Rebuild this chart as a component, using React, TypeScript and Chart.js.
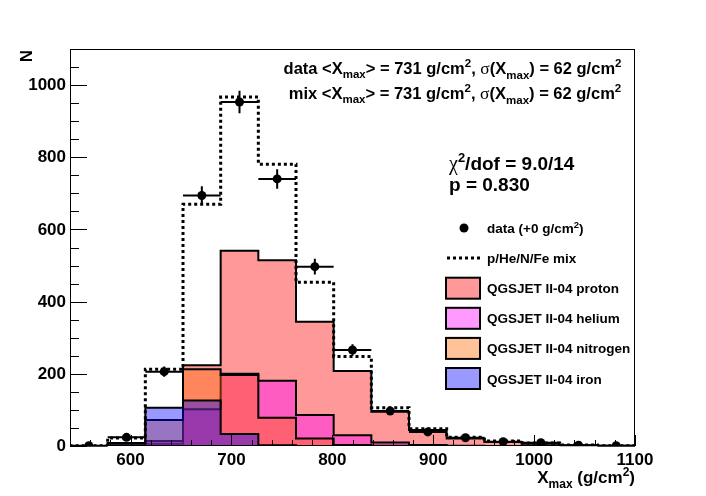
import React, { useEffect, useRef } from "react";
import { Chart, registerables } from "chart.js";

Chart.register(...registerables);

// ---------- data ----------
const BIN_EDGES = [540, 577.33, 614.67, 652, 689.33, 726.67, 764, 801.33, 838.67, 876, 913.33, 950.67, 988, 1025.33, 1062.67, 1100];
const DATA_COUNTS = [1, 24, 206, 694, 953, 740, 497, 266, 97, 39, 23, 12, 9, 2, 1];
const DATA_ERRORS = [1, 5, 14, 26, 31, 27, 22, 16, 10, 6, 5, 3, 3, 1, 1];
const MIX = [1, 22, 213, 670, 967, 781, 454, 248, 106, 48, 24, 14, 8, 3, 1];
const PROTON = [0, 1, 6, 224, 541, 515, 344, 208, 95, 44, 21, 11, 6, 2, 1];
const HELIUM = [0, 2, 14, 102, 200, 181, 86, 30, 10, 3, 1, 0, 0, 0, 0];
const NITROGEN = [0, 8, 72, 213, 197, 78, 21, 3, 1, 0, 0, 0, 0, 0, 0];
const IRON = [0, 7, 106, 126, 33, 2, 0, 0, 0, 0, 0, 0, 0, 0, 0];

const X_MIN = 540;
const X_MAX = 1100;
const Y_MIN = 0;
const Y_MAX = 1100;
const X_TICK_LABELS = [600, 700, 800, 900, 1000, 1100];
const Y_TICK_LABELS = [0, 200, 400, 600, 800, 1000];

const COMPONENT_LABELS = ["QGSJET II-04 proton", "QGSJET II-04 helium", "QGSJET II-04 nitrogen", "QGSJET II-04 iron"];
const COMPONENT_COLORS = ["rgba(255,0,0,0.4)", "rgba(255,0,255,0.4)", "rgba(255,102,0,0.4)", "rgba(0,0,255,0.4)"];

// ---------- helpers ----------
const SANS = '"Liberation Sans", Arial, Helvetica, sans-serif';
const SERIF = '"Liberation Serif", "DejaVu Serif", serif';

type Seg = { t: string; font: string; dy?: number };

function richWidth(ctx: CanvasRenderingContext2D, segs: Seg[]) {
  let w = 0;
  for (const s of segs) {
    ctx.font = s.font;
    w += ctx.measureText(s.t).width;
  }
  return w;
}

function drawRich(ctx: CanvasRenderingContext2D, segs: Seg[], x: number, y: number, align: "left" | "right" | "center") {
  const w = richWidth(ctx, segs);
  let cx = align === "left" ? x : align === "right" ? x - w : x - w / 2;
  ctx.textAlign = "left";
  ctx.textBaseline = "alphabetic";
  for (const s of segs) {
    ctx.font = s.font;
    ctx.fillText(s.t, cx, y + (s.dy || 0));
    cx += ctx.measureText(s.t).width;
  }
}

function histPoints(values: number[]) {
  const last = BIN_EDGES.length - 1;
  const pts = [{ x: BIN_EDGES[0], y: 0 }];
  values.forEach((v, i) => pts.push({ x: BIN_EDGES[i], y: v }));
  pts.push({ x: BIN_EDGES[last], y: values[values.length - 1] });
  pts.push({ x: BIN_EDGES[last], y: 0 });
  return pts;
}

const decorPlugin = {
  id: "rootDecor",
  afterDatasetsDraw(chart: any) {
    const ctx: CanvasRenderingContext2D = chart.ctx;
    const xs = chart.scales.x;
    const ys = chart.scales.y;
    // error bars of the data
    ctx.save();
    ctx.strokeStyle = "#000";
    ctx.lineWidth = 2;
    DATA_COUNTS.forEach((v, i) => {
      const x0 = xs.getPixelForValue(BIN_EDGES[i]);
      const x1 = xs.getPixelForValue(BIN_EDGES[i + 1]);
      const xc = xs.getPixelForValue((BIN_EDGES[i] + BIN_EDGES[i + 1]) / 2);
      const yc = ys.getPixelForValue(v);
      ctx.beginPath();
      ctx.moveTo(x0, yc);
      ctx.lineTo(x1, yc);
      ctx.moveTo(xc, ys.getPixelForValue(v - DATA_ERRORS[i]));
      ctx.lineTo(xc, ys.getPixelForValue(v + DATA_ERRORS[i]));
      ctx.stroke();
    });
    ctx.restore();
  },
  afterDraw(chart: any) {
    const ctx: CanvasRenderingContext2D = chart.ctx;
    const a = chart.chartArea;
    const xs = chart.scales.x;
    const ys = chart.scales.y;
    ctx.save();
    ctx.fillStyle = "#000";
    ctx.strokeStyle = "#000";
    // frame
    ctx.lineWidth = 1;
    ctx.strokeRect(a.left + 0.5, a.top + 0.5, a.right - a.left - 1, a.bottom - a.top - 1);
    // y ticks
    ctx.beginPath();
    for (let v = Y_MIN; v <= Y_MAX; v += 50) {
      const y = Math.round(ys.getPixelForValue(v)) + 0.5;
      const len = v % 200 === 0 ? 17 : 9;
      ctx.moveTo(a.left, y);
      ctx.lineTo(a.left + len, y);
    }
    // x ticks
    for (let v = X_MIN; v <= X_MAX; v += 20) {
      const x = Math.round(xs.getPixelForValue(v)) + 0.5;
      const len = v % 100 === 0 ? 11 : 6;
      ctx.moveTo(x, a.bottom);
      ctx.lineTo(x, a.bottom - len);
    }
    ctx.stroke();
    // tick labels
    ctx.font = `bold 17px ${SANS}`;
    ctx.textAlign = "right";
    ctx.textBaseline = "middle";
    Y_TICK_LABELS.forEach((v) => ctx.fillText(String(v), a.left - 4, ys.getPixelForValue(v) + 0.5));
    ctx.textAlign = "center";
    ctx.textBaseline = "alphabetic";
    X_TICK_LABELS.forEach((v) => ctx.fillText(String(v), xs.getPixelForValue(v), a.bottom + 19));
    // axis titles
    drawRich(
      ctx,
      [
        { t: "X", font: `bold 17px ${SANS}` },
        { t: "max", font: `bold 12px ${SANS}`, dy: 5 },
        { t: " (g/cm", font: `bold 17px ${SANS}` },
        { t: "2", font: `bold 12px ${SANS}`, dy: -7 },
        { t: ")", font: `bold 17px ${SANS}` },
      ],
      a.right,
      a.bottom + 37,
      "right"
    );
    ctx.save();
    ctx.translate(32, a.top + 1);
    ctx.rotate(-Math.PI / 2);
    ctx.font = `bold 17px ${SANS}`;
    ctx.textAlign = "right";
    ctx.textBaseline = "alphabetic";
    ctx.fillText("N", 0, 0);
    ctx.restore();

    // top texts
    const B16 = `bold 16.5px ${SANS}`;
    const B11 = `bold 11.5px ${SANS}`;
    const G17 = `17.5px ${SERIF}`;
    const line = (who: string): Seg[] => [
      { t: who + " <X", font: B16 },
      { t: "max", font: B11, dy: 4 },
      { t: "> = 731 g/cm", font: B16 },
      { t: "2", font: B11, dy: -7 },
      { t: ", ", font: B16 },
      { t: "σ", font: G17 },
      { t: "(X", font: B16 },
      { t: "max", font: B11, dy: 5 },
      { t: ") = 62 g/cm", font: B16 },
      { t: "2", font: B11, dy: -7 },
    ];
    drawRich(ctx, line("data"), 452.5, 74, "center");
    drawRich(ctx, line("mix"), 455, 99, "center");

    drawRich(
      ctx,
      [
        { t: "χ", font: `20px ${SERIF}` },
        { t: "2", font: `bold 13px ${SANS}`, dy: -8 },
        { t: "/dof = 9.0/14", font: `bold 19px ${SANS}` },
      ],
      449,
      170,
      "left"
    );
    drawRich(ctx, [{ t: "p = 0.830", font: `bold 19px ${SANS}` }], 449, 191, "left");

    // legend
    const LX0 = 446;
    const LX1 = 480;
    const TX = 487;
    const rowY = (i: number) => 228 + i * 30.1;
    const LF = `bold 13.5px ${SANS}`;
    // data marker
    ctx.beginPath();
    ctx.arc((LX0 + LX1) / 2 + 1, rowY(0), 4.5, 0, Math.PI * 2);
    ctx.fill();
    drawRich(
      ctx,
      [
        { t: "data (+0 g/cm", font: LF },
        { t: "2", font: `bold 9.5px ${SANS}`, dy: -5 },
        { t: ")", font: LF },
      ],
      TX,
      rowY(0) + 5,
      "left"
    );
    // mix line
    ctx.save();
    ctx.lineWidth = 3;
    ctx.setLineDash([3, 3]);
    ctx.beginPath();
    ctx.moveTo(LX0 + 1, rowY(1));
    ctx.lineTo(LX1 + 3, rowY(1));
    ctx.stroke();
    ctx.restore();
    drawRich(ctx, [{ t: "p/He/N/Fe mix", font: LF }], TX, rowY(1) + 5, "left");
    // components
    COMPONENT_LABELS.forEach((lab, k) => {
      const y = rowY(2 + k);
      ctx.fillStyle = "#fff";
      ctx.fillRect(LX0, y - 10.5, LX1 - LX0, 21);
      ctx.fillStyle = COMPONENT_COLORS[k];
      ctx.fillRect(LX0, y - 10.5, LX1 - LX0, 21);
      ctx.lineWidth = 2;
      ctx.strokeStyle = "#000";
      ctx.strokeRect(LX0, y - 10.5, LX1 - LX0, 21);
      ctx.fillStyle = "#000";
      drawRich(ctx, [{ t: lab, font: LF }], TX, y + 5, "left");
    });
    ctx.restore();
  },
};

export default function App() {
  const ref = useRef<HTMLCanvasElement | null>(null);
  useEffect(() => {
    document.body.style.margin = "0";
    const canvas = ref.current;
    if (!canvas) return;
    const compSeries = [PROTON, HELIUM, NITROGEN, IRON];
    const compDatasets = compSeries.map((vals, k) => ({
      type: "line" as const,
      label: COMPONENT_LABELS[k],
      data: histPoints(vals),
      stepped: "before" as const,
      borderColor: "#000",
      borderWidth: 2,
      backgroundColor: COMPONENT_COLORS[k],
      fill: "origin",
      pointRadius: 0,
      tension: 0,
    }));
    const centers = DATA_COUNTS.map((v, i) => ({ x: (BIN_EDGES[i] + BIN_EDGES[i + 1]) / 2, y: v }));
    const chart = new Chart(canvas, {
      type: "line",
      data: {
        datasets: [
          {
            label: "data (+0 g/cm²)",
            data: centers,
            showLine: false,
            pointRadius: 4.5,
            pointBackgroundColor: "#000",
            pointBorderColor: "#000",
            pointBorderWidth: 0,
          },
          {
            label: "p/He/N/Fe mix",
            data: histPoints(MIX),
            stepped: "before",
            borderColor: "#000",
            borderWidth: 3,
            borderDash: [3, 3],
            fill: false,
            pointRadius: 0,
          },
          // reversed so that proton is painted first and iron last
          ...compDatasets.slice().reverse(),
        ] as any,
      },
      options: {
        animation: false,
        responsive: false,
        devicePixelRatio: 1,
        events: [],
        layout: { padding: { left: 70, right: 71, top: 49, bottom: 50 } },
        plugins: { legend: { display: false }, tooltip: { enabled: false } },
        scales: {
          x: { type: "linear", min: X_MIN, max: X_MAX, display: false },
          y: { type: "linear", min: Y_MIN, max: Y_MAX, display: false },
        },
      },
      plugins: [decorPlugin],
    });
    return () => chart.destroy();
  }, []);
  return (
    <div style={{ width: 706, height: 496, background: "#fff" }}>
      <canvas ref={ref} width={706} height={496} style={{ display: "block" }} />
    </div>
  );
}
